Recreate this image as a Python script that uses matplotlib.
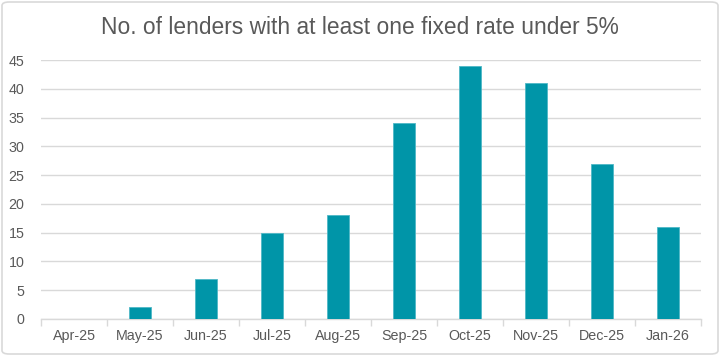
import matplotlib
matplotlib.use("Agg")
import matplotlib.pyplot as plt
from matplotlib.patches import FancyBboxPatch
import numpy as np

categories = ["Apr-25", "May-25", "Jun-25", "Jul-25", "Aug-25", "Sep-25",
              "Oct-25", "Nov-25", "Dec-25", "Jan-26"]
values = [0, 2, 7, 15, 18, 34, 44, 41, 27, 16]
yticks = [0, 5, 10, 15, 20, 25, 30, 35, 40, 45]

plt.rcParams['font.family'] = ['Liberation Sans', 'DejaVu Sans']
fig = plt.figure(figsize=(7.2, 3.56), dpi=100)
ax = fig.add_axes([41/720, 1-319/356, 660/720, 259/356])

x = np.arange(len(categories))
ax.bar(x, values, width=0.33, color="#0095A8", edgecolor="#4FB8C6", linewidth=0.6, zorder=3)

ax.set_xlim(-0.5, len(categories) - 0.5)
ax.set_ylim(0, 45)
ax.set_yticks(yticks)
ax.yaxis.grid(True, color="#D9D9D9", linewidth=1.0, zorder=0)
ax.set_axisbelow(True)
ax.tick_params(axis='y', length=0, labelsize=10.3, labelcolor="#595959", pad=12)
ax.set_xticks(x)
ax.set_xticklabels(categories)
ax.tick_params(axis='x', length=0, labelsize=10.3, labelcolor="#595959", pad=7)
ax.set_xticks(np.arange(-0.5, len(categories) + 0.5, 1), minor=True)
ax.tick_params(axis='x', which='minor', length=5, color="#D9D9D9", width=1)
for s in ['top', 'right', 'left']:
    ax.spines[s].set_visible(False)
ax.spines['bottom'].set_color("#D9D9D9")
ax.spines['bottom'].set_linewidth(1.0)

fig.text(0.5, 1-27/356, "No. of lenders with at least one fixed rate under 5%",
         ha='center', va='center', fontsize=16.4, color="#595959")

border = FancyBboxPatch((2/720, 2/356), 716/720, 352/356,
                        boxstyle="round,pad=0,rounding_size=0.01",
                        transform=fig.transFigure, fill=False,
                        edgecolor="#D9D9D9", linewidth=1.2)
fig.patches.append(border)

fig.savefig("out.png", dpi=100)
